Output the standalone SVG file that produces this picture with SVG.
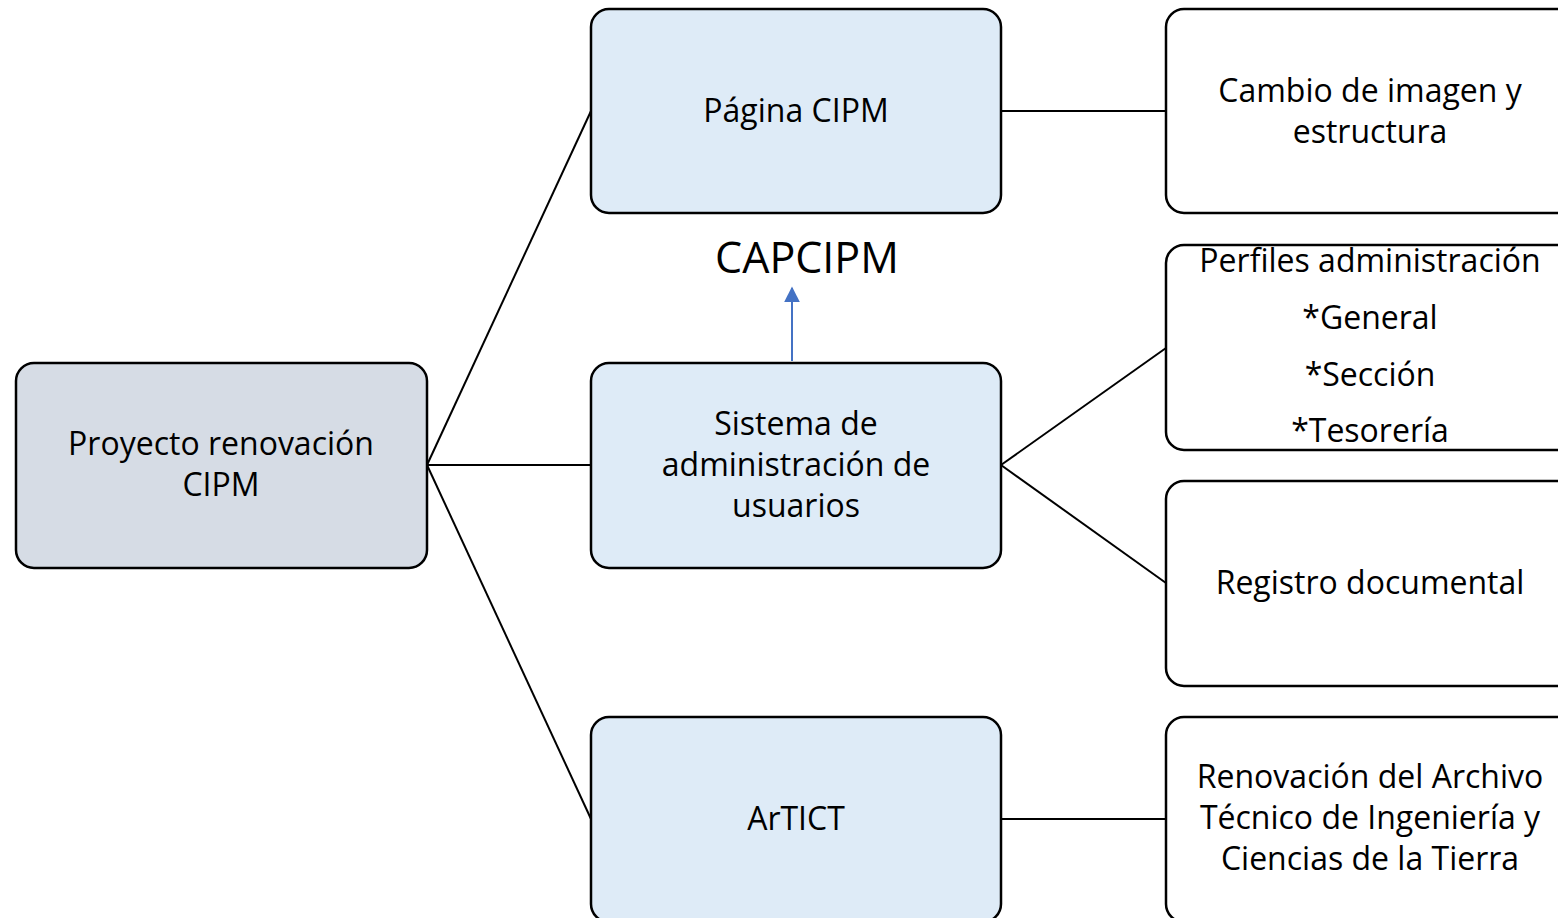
<svg xmlns="http://www.w3.org/2000/svg" width="1558" height="918" viewBox="0 0 1558 918">
<defs>
<style>
.box{stroke:#000;stroke-width:2.5}
.root{fill:#D6DCE5}
.mid{fill:#DEEBF7}
.leaf{fill:#FFFFFF}
.t{font-family:"Open Sans","Noto Sans",sans-serif;font-size:32px;fill:#000;text-anchor:middle}
.conn line{stroke:#000;stroke-width:2}
</style>
<marker id="ah" viewBox="0 0 10 10" refX="9" refY="5" markerWidth="16" markerHeight="16" markerUnits="userSpaceOnUse" orient="auto">
<path d="M0,0 L10,5 L0,10 Z" fill="#4472C4"/>
</marker>
</defs>
<rect width="1558" height="918" fill="#fff"/>
<g id="connectors" class="conn">
<line x1="427" y1="465" x2="591" y2="111"/>
<line x1="427" y1="465" x2="591" y2="465"/>
<line x1="427" y1="465" x2="591" y2="819"/>
<line x1="1001" y1="111" x2="1166" y2="111"/>
<line x1="1001" y1="465" x2="1166" y2="348"/>
<line x1="1001" y1="465" x2="1166" y2="583"/>
<line x1="1001" y1="819" x2="1166" y2="819"/>
<line x1="792" y1="361" x2="792" y2="288" style="stroke:#4472C4;stroke-width:2" marker-end="url(#ah)"/>
</g>
<g id="root">
<rect class="box root" x="16" y="363" width="411" height="205" rx="18"/>
<text class="t" x="221" y="455">Proyecto renovación</text>
<text class="t" x="221" y="496">CIPM</text>
</g>
<g id="pagina">
<rect class="box mid" x="591" y="9" width="410" height="204" rx="18"/>
<text class="t" x="796" y="122">Página CIPM</text>
</g>
<g id="sistema">
<rect class="box mid" x="591" y="363" width="410" height="205" rx="18"/>
<text class="t" x="796" y="435">Sistema de</text>
<text class="t" x="796" y="476">administración de</text>
<text class="t" x="796" y="517">usuarios</text>
</g>
<g id="artict">
<rect class="box mid" x="591" y="717" width="410" height="205" rx="18"/>
<text class="t" x="796" y="830">ArTICT</text>
</g>
<g id="capcipm">
<text class="t" x="807" y="273" style="font-size:43px">CAPCIPM</text>
</g>
<g id="cambio">
<rect class="box leaf" x="1166" y="9" width="410" height="204" rx="18"/>
<text class="t" x="1370" y="102">Cambio de imagen y</text>
<text class="t" x="1370" y="143">estructura</text>
</g>
<g id="perfiles">
<rect class="box leaf" x="1166" y="245" width="410" height="205" rx="18"/>
<text class="t" x="1370" y="272">Perfiles administración</text>
<text class="t" x="1370" y="329">*General</text>
<text class="t" x="1370" y="386">*Sección</text>
<text class="t" x="1370" y="442">*Tesorería</text>
</g>
<g id="registro">
<rect class="box leaf" x="1166" y="481" width="410" height="205" rx="18"/>
<text class="t" x="1370" y="594">Registro documental</text>
</g>
<g id="renovacion">
<rect class="box leaf" x="1166" y="717" width="410" height="205" rx="18"/>
<text class="t" x="1370" y="788">Renovación del Archivo</text>
<text class="t" x="1370" y="829">Técnico de Ingeniería y</text>
<text class="t" x="1370" y="870">Ciencias de la Tierra</text>
</g>
</svg>
